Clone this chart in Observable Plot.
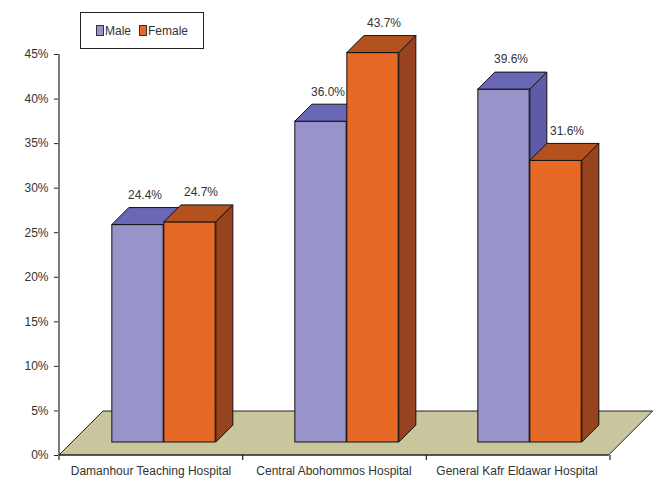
<!DOCTYPE html>
<html>
<head>
<meta charset="utf-8">
<script src="https://cdn.jsdelivr.net/npm/d3@7"></script>
<script src="https://cdn.jsdelivr.net/npm/@observablehq/plot@0.6"></script>
<style>
  html, body { margin: 0; padding: 0; background: #fff; }
  #wrap { position: relative; width: 654px; height: 483px; font-family: "Liberation Sans", Arial, sans-serif; }
  #legend { position: absolute; left: 80px; top: 12px; width: 122px; height: 35px; border: 1.5px solid #222; background: #fff;
            display: flex; align-items: center; justify-content: center; gap: 8px; font-size: 12px; color: #333; }
  #legend span.sw { display: inline-block; width: 6px; height: 9px; border: 1px solid #333; margin-right: 1px; vertical-align: -1px; }
</style>
</head>
<body>
<div id="wrap"></div>
<script>
// ---- data ----
const hospitals = ["Damanhour Teaching Hospital", "Central Abohommos Hospital", "General Kafr Eldawar Hospital"];
const sexes = ["Male", "Female"];
const male = [24.4, 36.0, 39.6];
const female = [24.7, 43.7, 31.6];
const yTicks = [0, 5, 10, 15, 20, 25, 30, 35, 40, 45];

// ---- styles ----
const colors = {
  Male:   {front: "#9894ca", top: "#6b67b7", side: "#5f5ba6"},
  Female: {front: "#e66a26", top: "#b4521f", side: "#98431f"}
};
const floorColor = "#c9c59c";
const W = 654, H = 483, mL = 58, mR = 45, mT = 54, mB = 28;
const bw = (W - mL - mR) / hospitals.length;   // band width in px
const barW = 52;          // bar width px
const front = 13;         // offset of bar front plane from floor front
const depth = 17;         // bar depth
const floorDepth = 44;    // floor depth

const rows = hospitals.flatMap((h, i) => [
  {hospital: h, sex: "Male", value: male[i]},
  {hospital: h, sex: "Female", value: female[i]}
]);

const pts = a => a.map(p => p.join(",")).join(" ");

// floor
const floorMark = (index, {x, y}) => {
  const g = d3.create("svg:g");
  const x0 = x(hospitals[0]), x1 = x(hospitals[hospitals.length - 1]) + bw, y0 = y(0);
  g.append("polygon")
    .attr("points", pts([[x0, y0], [x1, y0], [x1 + floorDepth, y0 - floorDepth], [x0 + floorDepth, y0 - floorDepth]]))
    .attr("fill", floorColor).attr("stroke", "#222").attr("stroke-width", 1);
  return g.node();
};
// axis lines and category boundary ticks
const axisLines = (index, {x, y}) => {
  const g = d3.create("svg:g").attr("stroke", "#222").attr("stroke-width", 1.2);
  const x0 = x(hospitals[0]), x1 = x(hospitals[hospitals.length - 1]) + bw, y0 = y(0);
  g.append("line").attr("x1", x0).attr("x2", x0).attr("y1", y(45)).attr("y2", y0);
  g.append("line").attr("x1", x0).attr("x2", x1).attr("y1", y0).attr("y2", y0);
  for (let i = 0; i <= hospitals.length; i++) {
    const xt = x0 + i * bw;
    g.append("line").attr("x1", xt).attr("x2", xt).attr("y1", y0).attr("y2", y0 + 5);
  }
  return g.node();
};

// top and side faces of bars of one sex
const faces = sex => (index, {x, y}) => {
  const g = d3.create("svg:g").attr("stroke", "#111").attr("stroke-width", 1).attr("stroke-linejoin", "round");
  rows.filter(r => r.sex === sex).forEach(r => {
    const left = x(r.hospital) + bw / 2 + (sex === "Male" ? -barW : 0) + front;
    const right = left + barW;
    const top = y(r.value) - front;
    const bottom = y(0) - front;
    g.append("polygon")
      .attr("points", pts([[left, top], [right, top], [right + depth, top - depth], [left + depth, top - depth]]))
      .attr("fill", colors[sex].top);
    g.append("polygon")
      .attr("points", pts([[right, top], [right + depth, top - depth], [right + depth, bottom - depth], [right, bottom]]))
      .attr("fill", colors[sex].side);
  });
  return g.node();
};

const frontBars = sex => Plot.barY(rows.filter(r => r.sex === sex), {
  x: "hospital", y: "value",
  fill: colors[sex].front, stroke: "#111", strokeWidth: 1,
  insetLeft: sex === "Male" ? bw / 2 - barW : bw / 2,
  insetRight: sex === "Male" ? bw / 2 : bw / 2 - barW,
  dx: front, dy: -front
});

const valueLabels = (sex, dx) => Plot.text(rows.filter(r => r.sex === sex), {
  x: "hospital", y: "value",
  text: d => d.value.toFixed(1) + "%",
  dx, dy: -43, lineAnchor: "middle", fontSize: 12, fill: "#333"
});

const chart = Plot.plot({
  width: W, height: H,
  marginLeft: mL, marginRight: mR, marginTop: mT, marginBottom: mB,
  style: {fontFamily: "'Liberation Sans', Arial, sans-serif", fontSize: "12px", color: "#333", background: "transparent", overflow: "visible"},
  x: {type: "band", domain: hospitals, padding: 0},
  y: {domain: [0, 45]},
  marks: [
    floorMark,
    axisLines,
    Plot.axisY({ticks: yTicks, tickSize: 4, tickPadding: 6, tickFormat: d => d + "%", stroke: "#222", fill: "#333", fontSize: 12, label: null}),
    Plot.axisX({tickSize: 0, tickPadding: 11, fill: "#333", fontSize: 12, label: null}),
    frontBars("Male"), faces("Male"),
    frontBars("Female"), faces("Female"),
    valueLabels("Male", -6),
    valueLabels("Female", 50)
  ]
});

const wrap = document.getElementById("wrap");
wrap.appendChild(chart);
const legend = document.createElement("div");
legend.id = "legend";
legend.innerHTML = sexes.map(s => `<span><span class="sw" style="background:${colors[s].front}"></span>${s}</span>`).join("");
wrap.appendChild(legend);
</script>
</body>
</html>
